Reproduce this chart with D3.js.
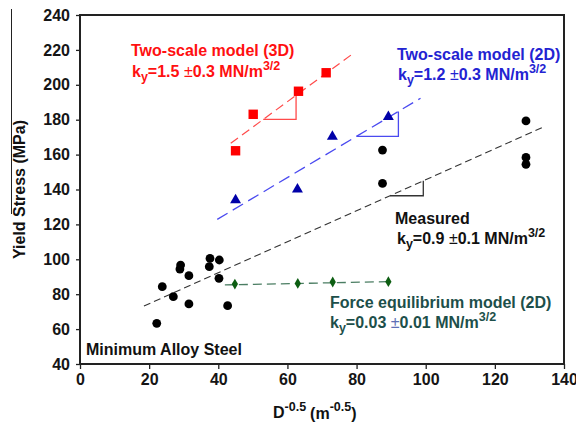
<!DOCTYPE html>
<html>
<head>
<meta charset="utf-8">
<script src="https://cdn.jsdelivr.net/npm/d3@7"></script>
<style>
  html, body { margin: 0; padding: 0; background: #fff; }
  svg { display: block; font-family: "Liberation Sans", Arial, sans-serif; font-weight: bold; }
</style>
</head>
<body>
<svg id="chart" width="576" height="427"></svg>
<script>
// Grain size (D^-0.5) vs. yield stress data
const measuredX = [22.2, 23.8, 27.0, 29.1, 28.9, 31.5, 31.5, 37.6, 37.4, 40.3, 40.2, 42.7, 87.5, 87.5, 129.0, 129.0, 129.0];
const measuredY = [63.3, 84.3, 78.6, 96.7, 94.4, 90.6, 74.4, 100.5, 95.8, 99.6, 89.1, 73.4, 162.6, 143.5, 179.3, 158.4, 154.4];

const model3dX = [45.0, 50.1, 63.2, 71.2];
const model3dY = [162.2, 183.1, 196.3, 206.9];

const model2dX = [45.0, 62.9, 73.0, 89.2];
const model2dY = [134.0, 140.1, 170.3, 181.7];

const forceX = [44.8, 63.0, 73.1, 89.2];
const forceY = [85.8, 86.2, 87.0, 87.2];

// Fitted Hall-Petch lines: [x0, y0, x1, y1]
const fitMeasured = [18.5, 73.2, 133.6, 175.4];
const fit3d = [43.6, 166.5, 78.7, 217.5];
const fit2d = [39.7, 122.9, 98.5, 192.3];
const fitForce = [41.9, 85.3, 89.2, 87.2];

// Slope triangles: x range along each fit line
const triMeasured = [89.7, 99.3];
const tri3d = [53.0, 62.5];
const tri2d = [80.0, 92.1];

const xTicks = [0, 20, 40, 60, 80, 100, 120, 140];
const yTicks = [40, 60, 80, 100, 120, 140, 160, 180, 200, 220, 240];

const svg = d3.select("#chart");
const mLeft = 80, mRight = 564, mTop = 15, mBottom = 364;
const fs = 16, fsSup = 12.5;

const x = d3.scaleLinear().domain([0, 140]).range([mLeft, mRight]);
const y = d3.scaleLinear().domain([40, 240]).range([mBottom, mTop]);

// Axes
const xAxis = svg.append("g").attr("transform", `translate(0,${mBottom})`)
  .call(d3.axisBottom(x).tickValues(xTicks).tickSize(5).tickPadding(5));
const yAxis = svg.append("g").attr("transform", `translate(${mLeft},0)`)
  .call(d3.axisLeft(y).tickValues(yTicks).tickSize(4).tickPadding(6));
[xAxis, yAxis].forEach(g => {
  g.select(".domain").remove();
  g.selectAll("line").attr("stroke", "#222").attr("stroke-width", 1.3);
  g.selectAll("text").attr("font-size", fs).attr("font-weight", "bold")
    .attr("fill", "#151515").attr("font-family", "Liberation Sans, Arial, sans-serif");
});

// Plot frame
svg.append("rect").attr("x", mLeft).attr("y", mTop)
  .attr("width", mRight - mLeft).attr("height", mBottom - mTop)
  .attr("fill", "none").attr("stroke", "#222").attr("stroke-width", 2);

// Thin rule at the far left edge
svg.append("line").attr("x1", 11.5).attr("x2", 11.5).attr("y1", 9).attr("y2", 214)
  .attr("stroke", "#222").attr("stroke-width", 1);

function fitLine(f, color, dash, w) {
  svg.append("line")
    .attr("x1", x(f[0])).attr("y1", y(f[1]))
    .attr("x2", x(f[2])).attr("y2", y(f[3]))
    .attr("stroke", color).attr("stroke-width", w).attr("stroke-dasharray", dash);
}
function lineAt(f, xv) { return f[1] + (f[3] - f[1]) * (xv - f[0]) / (f[2] - f[0]); }
function slopeTri(f, t, color) {
  const pts = [[t[0], lineAt(f, t[0])], [t[1], lineAt(f, t[0])], [t[1], lineAt(f, t[1])]];
  svg.append("path")
    .attr("d", d3.line().x(d => x(d[0])).y(d => y(d[1]))(pts))
    .attr("fill", "none").attr("stroke", color).attr("stroke-width", 1.3);
}

fitLine(fitMeasured, "#333", "7,4", 1.1);
fitLine(fit3d, "#ff4a4a", "9,5", 1.2);
fitLine(fit2d, "#4a4af0", "12,6", 1.3);
fitLine(fitForce, "#4a7d62", "9,5", 1.3);

slopeTri(fitMeasured, triMeasured, "#333");
slopeTri(fit3d, tri3d, "#ff4a4a");
slopeTri(fit2d, tri2d, "#4a4af0");

// Markers
svg.append("g").selectAll("circle").data(d3.range(measuredX.length)).join("circle")
  .attr("cx", i => x(measuredX[i])).attr("cy", i => y(measuredY[i]))
  .attr("r", 4.4).attr("fill", "#000");

svg.append("g").selectAll("rect").data(d3.range(model3dX.length)).join("rect")
  .attr("x", i => x(model3dX[i]) - 4.7).attr("y", i => y(model3dY[i]) - 4.7)
  .attr("width", 9.4).attr("height", 9.4).attr("fill", "#ff0000");

const tri = d3.symbol().type(d3.symbolTriangle).size(52);
svg.append("g").selectAll("path").data(d3.range(model2dX.length)).join("path")
  .attr("d", tri)
  .attr("transform", i => `translate(${x(model2dX[i])},${y(model2dY[i])})`)
  .attr("fill", "#0000a8");

const dia = d3.symbol().type(d3.symbolDiamond).size(34);
svg.append("g").selectAll("path").data(d3.range(forceX.length)).join("path")
  .attr("d", dia)
  .attr("transform", i => `translate(${x(forceX[i])},${y(forceY[i])})`)
  .attr("fill", "#0d5e12");

// Annotation helper: "k_y=<value> ±<err> MN/m^3/2"
function kLabel(px, py, color, value, err, pmColor) {
  const t = svg.append("text").attr("x", px).attr("y", py)
    .attr("font-size", fs).attr("fill", color);
  t.append("tspan").text("k");
  t.append("tspan").attr("font-size", fsSup).attr("dy", 4).text("y");
  t.append("tspan").attr("dy", -4).text("=" + value + " ");
  t.append("tspan").attr("fill", pmColor || color).attr("font-weight", "normal").text("±");
  t.append("tspan").text(err + " MN/m");
  t.append("tspan").attr("font-size", fsSup).attr("dy", -7).text("3/2");
}
function title(px, py, color, s) {
  svg.append("text").attr("x", px).attr("y", py)
    .attr("font-size", fs).attr("fill", color).text(s);
}

title(131, 56, "#ff1010", "Two-scale model (3D)");
kLabel(132, 77, "#ff1010", "1.5", "0.3");

title(397, 59.5, "#2323d2", "Two-scale model (2D)");
kLabel(398, 79.5, "#2323d2", "1.2", "0.3");

title(395, 223.5, "#111", "Measured");
kLabel(397, 244, "#111", "0.9", "0.1");

title(330, 308, "#1d4f4a", "Force equilibrium model (2D)");
kLabel(330, 327.5, "#1d4f4a", "0.03", "0.01", "#5d6fb5");

title(86, 355, "#111", "Minimum Alloy Steel");

// Axis titles
const xt = svg.append("text").attr("x", 273).attr("y", 418)
  .attr("font-size", fs).attr("fill", "#111");
xt.append("tspan").text("D");
xt.append("tspan").attr("font-size", fsSup).attr("dy", -7).text("-0.5");
xt.append("tspan").attr("dy", 8).attr("dx", 4).text("(m");
xt.append("tspan").attr("font-size", fsSup).attr("dy", -8).text("-0.5");
xt.append("tspan").attr("dy", 8).text(")");

svg.append("text")
  .attr("transform", `translate(25,${(mTop + mBottom) / 2}) rotate(-90)`)
  .attr("text-anchor", "middle").attr("font-size", fs).attr("fill", "#111")
  .text("Yield Stress (MPa)");
</script>
</body>
</html>
